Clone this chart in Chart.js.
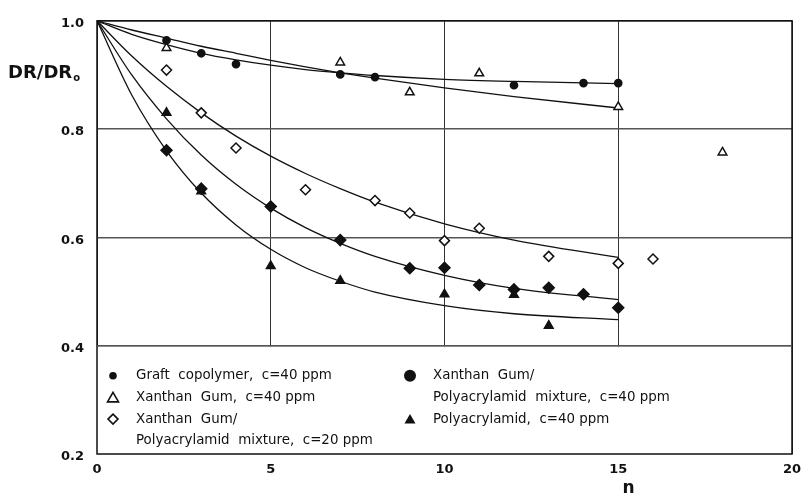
<!DOCTYPE html>
<html>
<head>
<meta charset="utf-8">
<script src="https://cdn.jsdelivr.net/npm/chart.js@4.4.1/dist/chart.umd.min.js"></script>
<style>
    html, body { margin: 0; padding: 0; background: #ffffff; }
    #wrap { width: 803px; height: 495px; }
</style>
</head>
<body>
<div id="wrap"><canvas id="drChart" width="803" height="495"></canvas></div>
<script>
// Measured points (n = number of passes, DR/DR0)
const graftX = [2, 3, 4, 7, 8, 12, 14, 15];
const graftY = [0.964, 0.940, 0.920, 0.901, 0.896, 0.881, 0.885, 0.885];

const xanthanX = [2, 7, 9, 11, 15, 18];
const xanthanY = [0.950, 0.923, 0.868, 0.903, 0.841, 0.757];

const mix20X = [2, 3, 4, 6, 8, 9, 10, 11, 13, 15, 16];
const mix20Y = [0.909, 0.830, 0.765, 0.688, 0.668, 0.645, 0.594, 0.617, 0.565, 0.552, 0.560];

const mix40X = [2, 3, 5, 7, 9, 10, 11, 12, 13, 14, 15];
const mix40Y = [0.761, 0.690, 0.657, 0.595, 0.543, 0.544, 0.512, 0.504, 0.507, 0.495, 0.470];

const pamX = [2, 3, 5, 7, 10, 12, 13];
const pamY = [0.830, 0.685, 0.547, 0.520, 0.495, 0.494, 0.437];

// Fitted curves
const curveX = [0, 1, 2, 3, 4, 5, 6, 7, 8, 10, 12, 15];
const graftCurve = [1.000, 0.975, 0.956, 0.940, 0.928, 0.918, 0.910, 0.904, 0.899, 0.892, 0.888, 0.884];
const xanthanCurve = [1.000, 0.983, 0.968, 0.953, 0.940, 0.927, 0.915, 0.904, 0.894, 0.876, 0.860, 0.839];
const mix20Curve = [1.000, 0.935, 0.879, 0.830, 0.787, 0.750, 0.718, 0.690, 0.665, 0.625, 0.595, 0.563];
const mix40Curve = [1.000, 0.900, 0.819, 0.752, 0.698, 0.654, 0.618, 0.589, 0.565, 0.530, 0.506, 0.485];
const pamCurve = [1.000, 0.863, 0.760, 0.682, 0.623, 0.578, 0.544, 0.519, 0.499, 0.474, 0.459, 0.448];

// Axis ticks
const xTicks = [0, 5, 10, 15, 20];
const yTicks = [0.2, 0.4, 0.6, 0.8, 1.0];

// Legend entries: [column, row, marker, lines]
const legendItems = [
    [0, 0, 'dot', ['Graft  copolymer,  c=40 ppm']],
    [0, 1, 'openTriangle', ['Xanthan  Gum,  c=40 ppm']],
    [0, 2, 'openDiamond', ['Xanthan  Gum/', 'Polyacrylamid  mixture,  c=20 ppm']],
    [1, 0, 'bigDot', ['Xanthan  Gum/', 'Polyacrylamid  mixture,  c=40 ppm']],
    [1, 2, 'filledTriangle', ['Polyacrylamid,  c=40 ppm']]
];

const INK = '#111111';
const FONT = '"DejaVu Sans", sans-serif';

function toPoints(xs, ys) {
    return xs.map((x, i) => ({ x: x, y: ys[i] }));
}

function curve(ys) {
    return {
        data: toPoints(curveX, ys),
        showLine: true,
        borderColor: INK,
        borderWidth: 1.3,
        pointRadius: 0,
        cubicInterpolationMode: 'monotone',
        fill: false,
        order: 2
    };
}

function marks(xs, ys, style, radius, fillColor) {
    return {
        data: toPoints(xs, ys),
        showLine: false,
        pointStyle: style,
        pointRadius: radius,
        pointHoverRadius: radius,
        pointBackgroundColor: fillColor,
        pointBorderColor: INK,
        pointBorderWidth: 1.5,
        order: 1
    };
}

// draw a legend marker by hand
function drawMarker(ctx, kind, x, y) {
    ctx.save();
    ctx.strokeStyle = INK;
    ctx.fillStyle = INK;
    ctx.lineWidth = 1.6;
    ctx.beginPath();
    if (kind === 'dot') {
        ctx.arc(x, y, 3.8, 0, Math.PI * 2);
        ctx.fill();
    } else if (kind === 'bigDot') {
        ctx.arc(x, y, 6, 0, Math.PI * 2);
        ctx.fill();
    } else if (kind === 'openTriangle' || kind === 'filledTriangle') {
        ctx.moveTo(x, y - 5);
        ctx.lineTo(x + 5.5, y + 4.5);
        ctx.lineTo(x - 5.5, y + 4.5);
        ctx.closePath();
        if (kind === 'filledTriangle') ctx.fill(); else ctx.stroke();
    } else if (kind === 'openDiamond') {
        ctx.moveTo(x, y - 5);
        ctx.lineTo(x + 5, y);
        ctx.lineTo(x, y + 5);
        ctx.lineTo(x - 5, y);
        ctx.closePath();
        ctx.stroke();
    }
    ctx.restore();
}

const framePlugin = {
    id: 'frame',
    beforeDatasetsDraw(chart) {
        const { ctx, chartArea } = chart;
        const yScale = chart.scales.y;
        const top = yScale.getPixelForValue(0.4);
        // legend panel hides the grid below 0.4
        ctx.save();
        ctx.fillStyle = '#ffffff';
        ctx.fillRect(chartArea.left, top + 1, chartArea.right - chartArea.left, chartArea.bottom - top);
        ctx.strokeStyle = INK;
        ctx.lineWidth = 1.5;
        ctx.strokeRect(chartArea.left, chartArea.top, chartArea.right - chartArea.left, chartArea.bottom - chartArea.top);
        ctx.beginPath();
        ctx.strokeStyle = '#555555';
        ctx.moveTo(chartArea.left, top);
        ctx.lineTo(chartArea.right, top);
        ctx.stroke();
        ctx.restore();
    },
    afterDraw(chart) {
        const { ctx, chartArea } = chart;
        const yScale = chart.scales.y;
        const xScale = chart.scales.x;

        // legend inside the lower panel
        const colX = [chartArea.left + 16, chartArea.left + 313];
        const rowY0 = yScale.getPixelForValue(0.4) + 30;
        const rowStep = 21.7;
        ctx.save();
        ctx.font = '13.4px ' + FONT;
        ctx.fillStyle = INK;
        ctx.textBaseline = 'middle';
        legendItems.forEach(([col, row, kind, lines]) => {
            const y = rowY0 + row * rowStep;
            drawMarker(ctx, kind, colX[col], y);
            lines.forEach((line, i) => {
                ctx.fillText(line, colX[col] + 23, y + i * rowStep);
            });
        });

        // y-axis title DR/DR0
        ctx.font = 'bold 18px ' + FONT;
        ctx.textAlign = 'left';
        ctx.fillText('DR/DR', 8, 73);
        const w = ctx.measureText('DR/DR').width;
        ctx.font = 'bold 10px ' + FONT;
        ctx.fillText('o', 8 + w + 1, 78);

        // x-axis title n
        ctx.font = 'bold 17px ' + FONT;
        ctx.textAlign = 'center';
        ctx.fillText('n', xScale.getPixelForValue(15.3), 489);
        ctx.restore();
    }
};

const chart = new Chart(document.getElementById('drChart'), {
    type: 'scatter',
    data: {
        datasets: [
            curve(graftCurve),
            curve(xanthanCurve),
            curve(mix20Curve),
            curve(mix40Curve),
            curve(pamCurve),
            marks(graftX, graftY, 'circle', 3.6, INK),
            marks(xanthanX, xanthanY, 'triangle', 5, '#ffffff'),
            marks(mix20X, mix20Y, 'rectRot', 5, '#ffffff'),
            marks(mix40X, mix40Y, 'rectRot', 5.5, INK),
            marks(pamX, pamY, 'triangle', 5, INK)
        ]
    },
    options: {
        responsive: false,
        animation: false,
        devicePixelRatio: 1,
        layout: { padding: { top: 15, right: 11, left: 0, bottom: 0 } },
        plugins: {
            legend: { display: false },
            tooltip: { enabled: false }
        },
        scales: {
            x: {
                type: 'linear',
                min: xTicks[0],
                max: xTicks[xTicks.length - 1],
                afterBuildTicks: scale => { scale.ticks = xTicks.map(v => ({ value: v })); },
                afterFit: scale => {
                    scale.height = 41;
                    scale.paddingLeft = 0;
                    scale.paddingRight = 0;
                },
                grid: { color: '#333333', lineWidth: 1, drawTicks: false },
                border: { display: false },
                ticks: {
                    padding: 8,
                    color: INK,
                    font: { family: FONT, size: 13, weight: 'bold' },
                    maxRotation: 0
                }
            },
            y: {
                type: 'linear',
                min: yTicks[0],
                max: yTicks[yTicks.length - 1],
                afterBuildTicks: scale => { scale.ticks = yTicks.map(v => ({ value: v })); },
                afterFit: scale => { scale.width = 97; },
                grid: { color: '#555555', lineWidth: 1.5, drawTicks: false },
                border: { display: false },
                ticks: {
                    padding: 13,
                    labelOffset: 3,
                    color: INK,
                    font: { family: FONT, size: 13, weight: 'bold' },
                    callback: v => v.toFixed(1)
                }
            }
        }
    },
    plugins: [framePlugin]
});
</script>
</body>
</html>
